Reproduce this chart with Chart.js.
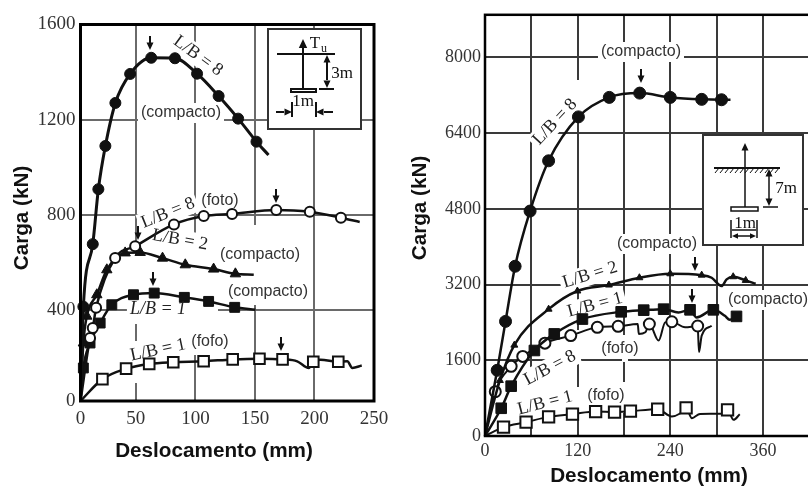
<!DOCTYPE html>
<html>
<head>
<meta charset="utf-8">
<title>Carga x Deslocamento</title>
<script src="https://cdn.jsdelivr.net/npm/chart.js@4"></script>
<style>
    html, body { margin: 0; padding: 0; background: #fff; overflow: hidden; width: 808px; height: 486px; }
    canvas { position: absolute; left: 0; top: 0; filter: blur(0.5px); }
</style>
</head>
<body>
<canvas id="leftChart" width="808" height="486"></canvas>
<canvas id="rightChart" width="820" height="486"></canvas>
<script>
// Left chart: tick values and labels
const leftXTicks = [3.5, 50, 100, 150, 200, 250];
const leftXLabels = ['0', '50', '100', '150', '200', '250'];
const leftYTicks = [16, 400, 800, 1200, 1600];
const leftYLabels = ['0', '400', '800', '1200', '1600'];

// Left chart: L/B = 8 (compacto)
const leftDense8X = [5.9, 13.8, 18.5, 24.4, 32.8, 45.2, 62.9, 82.8, 101.4, 119.5, 135.9, 151.3];
const leftDense8Y = [413, 676, 907, 1089, 1270, 1392, 1460, 1458, 1393, 1299, 1204, 1107];
const leftDense8BendX = [3.5, 161.4];
const leftDense8BendY = [16, 1051];

// Left chart: L/B = 8 (foto)
const leftLoose8X = [11.5, 13.8, 16.6, 32.6, 49.4, 82, 107, 130.8, 167.9, 196.1, 222.2];
const leftLoose8Y = [281, 323, 408, 618, 667, 759, 794, 803, 820, 812, 787];
const leftLoose8BendX = [3.5, 238];
const leftLoose8BendY = [16, 769];

// Left chart: L/B = 2 (compacto)
const leftDense2X = [5.9, 8.8, 17.2, 25.6, 41, 53.6, 72.4, 91.5, 115.3, 133.6];
const leftDense2Y = [260, 373, 463, 568, 639, 641, 617, 589, 571, 551];
const leftDense2BendX = [3.5, 149];
const leftDense2BendY = [16, 547];

// Left chart: L/B = 1 (compacto)
const leftDense1X = [5.9, 11.5, 20, 29.8, 48, 65.4, 90.7, 111.1, 133];
const leftDense1Y = [155, 260, 344, 421, 463, 470, 452, 435, 410];
const leftDense1BendX = [3.5, 150.4];
const leftDense1BendY = [16, 400];

// Left chart: L/B = 1 (fofo)
const leftLoose1X = [21.9, 41.8, 61.2, 81.4, 106.9, 131.3, 153.8, 173.2, 199, 220];
const leftLoose1Y = [108, 152, 172, 179, 183, 191, 194, 191, 181, 181];
const leftLoose1BendX = [3.5, 185.5, 195.3, 205, 227.6, 231.8, 239.7];
const leftLoose1BendY = [16, 183, 155, 190, 183, 155, 165];

// Right chart: tick values and labels
const rightXTicks = [0, 60, 120, 180, 240, 300, 360, 420];
const rightXLabels = ['0', '', '120', '', '240', '', '360', ''];
const rightYTicks = [0, 1600, 3200, 4800, 6400, 8000];
const rightYLabels = ['0', '1600', '3200', '4800', '6400', '8000'];

// Right chart: L/B = 8 (compacto)
const rightDense8X = [15.8, 26.6, 39, 58.4, 82.4, 121, 161, 200.4, 240, 280.7, 306.4];
const rightDense8Y = [1388, 2422, 3587, 4753, 5815, 6743, 7155, 7245, 7155, 7113, 7105];
const rightDense8BendX = [0, 318];
const rightDense8BendY = [0, 7105];

// Right chart: L/B = 2 (compacto)
const rightDense2X = [19.3, 38, 82.4, 119.7, 160.5, 200, 240, 280.7, 321.5, 337.7];
const rightDense2Y = [1173, 1920, 2680, 3064, 3190, 3344, 3428, 3399, 3365, 3288];
const rightDense2BendX = [0, 293.6, 306.4, 313, 350.6];
const rightDense2BendY = [0, 3344, 3168, 3309, 3218];

// Right chart: L/B = 1 (compacto)
const rightDense1X = [21, 33.9, 64, 89.7, 126.2, 176.4, 205.6, 231.4, 265.6, 295.8, 325.8];
const rightDense1Y = [586, 1053, 1807, 2157, 2471, 2624, 2659, 2680, 2666, 2666, 2527];
const rightDense1BendX = [0, 250.6, 274, 310.7, 317, 332];
const rightDense1BendY = [0, 2611, 2506, 2540, 2456, 2555];

// Right chart: L/B = 8 (fofo)
const rightLoose8X = [13.3, 33.9, 48.9, 77.6, 111.1, 145.5, 172.5, 212.9, 242, 275.5];
const rightLoose8Y = [936, 1472, 1682, 1962, 2121, 2297, 2318, 2366, 2414, 2324];
const rightLoose8BendX = [0, 197.9, 199.2, 207.7, 224.9, 233.4, 259.2, 277.2, 280.7, 293.6];
const rightLoose8BendY = [0, 2366, 2157, 2192, 2017, 2401, 2297, 1773, 2121, 2331];

// Right chart: L/B = 1 (fofo)
const rightLoose1X = [24, 53.2, 82.4, 113.3, 143.3, 167.8, 188.4, 223.7, 260.5, 314.2];
const rightLoose1Y = [188, 293, 404, 461, 517, 503, 524, 565, 593, 551];
const rightLoose1BendX = [0, 242, 252, 268, 278.5, 306, 322, 330];
const rightLoose1BendY = [0, 412, 470, 377, 467, 470, 341, 461];

const ink = '#111';

// marks come first: Chart.js paints the first dataset last, so they sit on the line
function curve(markX, markY, bendX, bendY, marker) {
    const line = markX.map((x, i) => ({x: x, y: markY[i]}))
        .concat(bendX.map((x, i) => ({x: x, y: bendY[i]})))
        .sort((a, b) => a.x - b.x);
    return [{
        data: markX.map((x, i) => ({x: x, y: markY[i]})),
        showLine: false,
        pointStyle: marker.style,
        pointRadius: marker.radius,
        pointBackgroundColor: marker.open ? '#fff' : ink,
        pointBorderColor: ink,
        pointBorderWidth: marker.open ? 2 : 1,
        clip: false
    }, {
        data: line,
        borderColor: ink,
        borderWidth: marker.lineWidth,
        cubicInterpolationMode: 'monotone',
        pointRadius: 0,
        clip: false
    }];
}

// Pen helpers used by the annotation plugin
function arrowHead(ctx, x, y, dx, dy, size) {
    const nx = -dy, ny = dx;
    ctx.beginPath();
    ctx.moveTo(x, y);
    ctx.lineTo(x - dx * size * 1.5 + nx * size * 0.7, y - dy * size * 1.5 + ny * size * 0.7);
    ctx.lineTo(x - dx * size * 1.5 - nx * size * 0.7, y - dy * size * 1.5 - ny * size * 0.7);
    ctx.closePath();
    ctx.fill();
}

function seg(ctx, x1, y1, x2, y2) {
    ctx.beginPath();
    ctx.moveTo(x1, y1);
    ctx.lineTo(x2, y2);
    ctx.stroke();
}

function drawLeftInset(ctx) {
    ctx.fillStyle = '#fff';
    ctx.strokeStyle = '#333';
    ctx.lineWidth = 2;
    ctx.fillRect(268, 29, 93, 100);
    ctx.strokeRect(268, 29, 93, 100);
    ctx.fillStyle = ink;
    ctx.strokeStyle = ink;
    ctx.lineWidth = 2;
    seg(ctx, 303, 48, 303, 89);
    arrowHead(ctx, 303, 39, 0, -1, 6);
    seg(ctx, 277, 54, 335, 54);
    seg(ctx, 327, 62, 327, 80);
    arrowHead(ctx, 327, 55, 0, -1, 5);
    arrowHead(ctx, 327, 88, 0, 1, 5);
    seg(ctx, 319, 89, 334, 89);
    ctx.strokeRect(291, 89, 25, 3);
    seg(ctx, 276, 112, 284, 112);
    arrowHead(ctx, 292, 112, 1, 0, 5);
    seg(ctx, 333, 112, 324, 112);
    arrowHead(ctx, 316, 112, -1, 0, 5);
    seg(ctx, 292, 102, 292, 117);
    seg(ctx, 316, 102, 316, 117);
    ctx.font = '17px "Liberation Serif"';
    ctx.textAlign = 'center';
    ctx.textBaseline = 'middle';
    ctx.fillText('T', 315, 44);
    ctx.fillText('3m', 342, 74);
    ctx.fillText('1m', 303, 102);
    ctx.font = '12px "Liberation Serif"';
    ctx.fillText('u', 324, 49);
}

function drawRightInset(ctx) {
    ctx.fillStyle = '#fff';
    ctx.strokeStyle = '#333';
    ctx.lineWidth = 2;
    ctx.fillRect(703, 135, 100, 110);
    ctx.strokeRect(703, 135, 100, 110);
    ctx.fillStyle = ink;
    ctx.strokeStyle = ink;
    ctx.lineWidth = 1.5;
    seg(ctx, 745, 150, 745, 207);
    arrowHead(ctx, 745, 143, 0, -1, 5);
    ctx.lineWidth = 2;
    seg(ctx, 714, 168, 780, 168);
    ctx.lineWidth = 1;
    for (let hx = 716; hx < 780; hx += 5) {
        seg(ctx, hx + 3, 168, hx - 1, 173);
    }
    ctx.lineWidth = 1.5;
    seg(ctx, 769, 176, 769, 199);
    arrowHead(ctx, 769, 169, 0, -1, 5);
    arrowHead(ctx, 769, 206, 0, 1, 5);
    seg(ctx, 763, 207, 778, 207);
    ctx.strokeRect(731, 207, 27, 4);
    seg(ctx, 731, 220, 731, 238);
    seg(ctx, 757, 220, 757, 238);
    seg(ctx, 738, 236, 750, 236);
    arrowHead(ctx, 732, 236, -1, 0, 4);
    arrowHead(ctx, 756, 236, 1, 0, 4);
    seg(ctx, 732, 230, 756, 230);
    ctx.font = '17px "Liberation Serif"';
    ctx.textAlign = 'center';
    ctx.textBaseline = 'middle';
    ctx.fillText('7m', 786, 189);
    ctx.fillText('1m', 745, 224);
}

const serifLabel = '18px "Liberation Serif"';
const sansLabel = '16px "Liberation Sans"';
const titleFont = 'bold 20.7px "Liberation Sans"';

// text, page x, page y, rotation in degrees, font
const leftNotes = [
    ['L/B = 8', 198, 56, 36, serifLabel],
    ['(compacto)', 181, 113, 0, sansLabel],
    ['L/B = 8', 168, 213, -22, serifLabel],
    ['(foto)', 220, 201, 0, sansLabel],
    ['L/B = 2', 180, 240, 10, serifLabel],
    ['(compacto)', 260, 255, 0, sansLabel],
    ['(compacto)', 268, 292, 0, sansLabel],
    ['L/B = 1', 158, 309, 0, 'italic ' + serifLabel],
    ['L/B = 1', 158, 350, -12, serifLabel],
    ['(fofo)', 210, 342, 0, sansLabel]
];
const rightNotes = [
    ['(compacto)', 641, 52, 0, sansLabel],
    ['L/B = 8', 555, 122, -47, serifLabel],
    ['(compacto)', 657, 244, 0, sansLabel],
    ['L/B = 2', 590, 275, -17, serifLabel],
    ['L/B = 1', 595, 305, -15, serifLabel],
    ['(compacto)', 768, 300, 0, sansLabel],
    ['(fofo)', 620, 349, 0, sansLabel],
    ['L/B = 8', 550, 368, -28, serifLabel],
    ['L/B = 1', 545, 403, -14, serifLabel],
    ['(fofo)', 606, 396, 0, sansLabel]
];
const leftTitles = [
    ['Deslocamento (mm)', 214, 451, 0, titleFont],
    ['Carga (kN)', 22.5, 218, -90, titleFont]
];
const rightTitles = [
    ['Deslocamento (mm)', 649, 476, 0, titleFont],
    ['Carga (kN)', 420, 208, -90, titleFont]
];
// page x, tip y
const leftArrows = [[150, 50], [276, 203], [138, 240], [153, 286], [281, 351]];
const rightArrows = [[641, 83], [695, 271], [692, 303]];
// breaks in the printed grid: x, y, w, h
const leftGaps = [[192, 240, 6, 115], [251, 225, 6, 80], [185, 307, 33, 6], [133, 254, 6, 70], [133, 341, 6, 42]];
const rightGaps = [[575, 80, 6, 32], [575, 330, 6, 33], [575, 387, 6, 30], [622, 335, 6, 27], [622, 382, 6, 31], [528, 372, 6, 52]];

function notesPlugin(cfg) {
    return {
        id: 'notes',
        beforeDatasetsDraw(chart) {
            const ctx = chart.ctx;
            ctx.save();
            ctx.fillStyle = '#fff';
            cfg.gaps.forEach(g => ctx.fillRect(g[0], g[1], g[2], g[3]));
            cfg.notes.forEach(n => {
                ctx.font = n[4];
                const w = ctx.measureText(n[0]).width;
                ctx.save();
                ctx.translate(n[1], n[2]);
                ctx.rotate(n[3] * Math.PI / 180);
                ctx.fillRect(-w / 2 - 3, -10, w + 6, 20);
                ctx.restore();
            });
            cfg.inset(ctx);
            ctx.restore();
        },
        afterDatasetsDraw(chart) {
            const ctx = chart.ctx;
            const area = chart.chartArea;
            ctx.save();
            ctx.strokeStyle = '#000';
            ctx.lineWidth = cfg.frameWidth;
            ctx.strokeRect(area.left, area.top, area.right - area.left, area.bottom - area.top);
            ctx.textAlign = 'center';
            ctx.textBaseline = 'middle';
            cfg.notes.concat(cfg.titles).forEach(n => {
                ctx.font = n[4];
                ctx.fillStyle = n[4] === sansLabel ? '#333' : (n[4] === titleFont ? '#111' : '#222');
                ctx.save();
                ctx.translate(n[1], n[2]);
                ctx.rotate(n[3] * Math.PI / 180);
                ctx.fillText(n[0], 0, 0);
                ctx.restore();
            });
            ctx.fillStyle = ink;
            ctx.strokeStyle = ink;
            ctx.lineWidth = 2;
            cfg.arrows.forEach(a => {
                seg(ctx, a[0], a[1] - 14, a[0], a[1] - 6);
                arrowHead(ctx, a[0], a[1], 0, 1, 5);
            });
            ctx.restore();
        }
    };
}

function makeChart(id, cfg) {
    return new Chart(document.getElementById(id), {
        type: 'line',
        data: {datasets: cfg.datasets},
        plugins: [notesPlugin(cfg)],
        options: {
            responsive: false,
            animation: false,
            layout: {padding: {top: cfg.top, right: cfg.right}},
            plugins: {legend: {display: false}, tooltip: {enabled: false}},
            scales: {
                x: {
                    type: 'linear',
                    min: cfg.xMin,
                    max: cfg.xMax,
                    afterBuildTicks: s => { s.ticks = cfg.xTicks.map(v => ({value: v})); },
                    afterFit: s => { s.height = cfg.bottomBand; },
                    border: {display: false},
                    grid: {color: cfg.gridColor, lineWidth: 2, drawTicks: false},
                    ticks: {
                        autoSkip: false,
                        maxRotation: 0,
                        padding: cfg.xPad,
                        color: '#333',
                        font: {family: 'Liberation Serif', size: cfg.tickSize},
                        callback: (v, i) => cfg.xLabels[i]
                    }
                },
                y: {
                    min: cfg.yMin,
                    max: cfg.yMax,
                    afterBuildTicks: s => { s.ticks = cfg.yTicks.map(v => ({value: v})); },
                    afterFit: s => { s.width = cfg.leftBand; },
                    border: {display: false},
                    grid: {color: cfg.gridColor, lineWidth: 2, drawTicks: false},
                    ticks: {
                        autoSkip: false,
                        padding: cfg.yPad,
                        color: '#333',
                        font: {family: 'Liberation Serif', size: cfg.tickSize},
                        callback: (v, i) => cfg.yLabels[i]
                    }
                }
            }
        }
    });
}

const leftDatasets = [].concat(
    curve(leftDense8X, leftDense8Y, leftDense8BendX, leftDense8BendY, {style: 'circle', radius: 5.5, open: false, lineWidth: 3}),
    curve(leftLoose8X, leftLoose8Y, leftLoose8BendX, leftLoose8BendY, {style: 'circle', radius: 5, open: true, lineWidth: 2.5}),
    curve(leftDense2X, leftDense2Y, leftDense2BendX, leftDense2BendY, {style: 'triangle', radius: 6, open: false, lineWidth: 2.5}),
    curve(leftDense1X, leftDense1Y, leftDense1BendX, leftDense1BendY, {style: 'rect', radius: 7, open: false, lineWidth: 2.5}),
    curve(leftLoose1X, leftLoose1Y, leftLoose1BendX, leftLoose1BendY, {style: 'rect', radius: 7.5, open: true, lineWidth: 2.5})
);

const rightDatasets = [].concat(
    curve(rightDense8X, rightDense8Y, rightDense8BendX, rightDense8BendY, {style: 'circle', radius: 6, open: false, lineWidth: 2.5}),
    curve(rightDense2X, rightDense2Y, rightDense2BendX, rightDense2BendY, {style: 'triangle', radius: 4, open: false, lineWidth: 2.5}),
    curve(rightDense1X, rightDense1Y, rightDense1BendX, rightDense1BendY, {style: 'rect', radius: 7.5, open: false, lineWidth: 2.5}),
    curve(rightLoose8X, rightLoose8Y, rightLoose8BendX, rightLoose8BendY, {style: 'circle', radius: 5.5, open: true, lineWidth: 2}),
    curve(rightLoose1X, rightLoose1Y, rightLoose1BendX, rightLoose1BendY, {style: 'rect', radius: 8, open: true, lineWidth: 2})
);

makeChart('leftChart', {
    datasets: leftDatasets, notes: leftNotes, titles: leftTitles, arrows: leftArrows, gaps: leftGaps, inset: drawLeftInset,
    xMin: 3.5, xMax: 250, xTicks: leftXTicks, xLabels: leftXLabels,
    yMin: 16, yMax: 1600, yTicks: leftYTicks, yLabels: leftYLabels,
    top: 24.5, right: 434, bottomBand: 85, leftBand: 80.5, frameWidth: 3,
    gridColor: '#6a6a6a', tickSize: 19, xPad: 7, yPad: 5
});

makeChart('rightChart', {
    datasets: rightDatasets, notes: rightNotes, titles: rightTitles, arrows: rightArrows, gaps: rightGaps, inset: drawRightInset,
    xMin: 0, xMax: 421, xTicks: rightXTicks, xLabels: rightXLabels,
    yMin: 0, yMax: 8900, yTicks: rightYTicks, yLabels: rightYLabels,
    top: 11, right: 8, bottomBand: 50, leftBand: 485, frameWidth: 2.5,
    gridColor: '#3a3a3a', tickSize: 18, xPad: 4, yPad: 4
});
</script>
</body>
</html>
